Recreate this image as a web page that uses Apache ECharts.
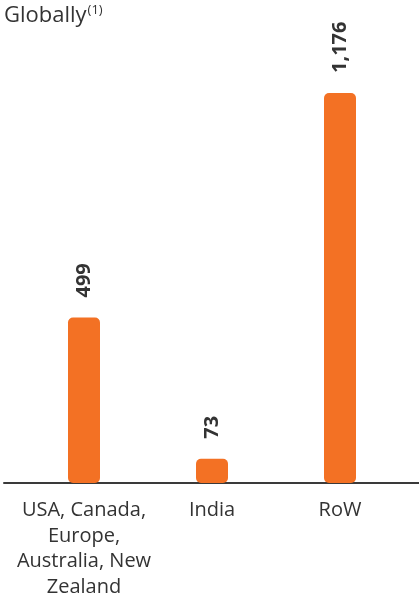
<!DOCTYPE html>
<html>
<head>
<meta charset="utf-8">
<script src="https://cdn.jsdelivr.net/npm/echarts@6/dist/echarts.min.js"></script>
<style>
  html, body { margin: 0; padding: 0; background: #fff; }
  #main { width: 419px; height: 594px; }
</style>
</head>
<body>
<div id="main"></div>
<script>
// data
const categories = ["USA, Canada,\nEurope,\nAustralia, New\nZealand", "India", "RoW"];
const values = [499, 73, 1176];
const valueLabels = ["499", "73", "1,176"];

const barColor = "#F37124";
const textColor = "#333333";
const fontFamily = "'Open Sans', Lato, sans-serif";

var myChart = echarts.init(document.getElementById("main"));

var option = {
    animation: false,
    title: {
        text: "Globally{sup|(1)}",
        left: -1,
        top: -1,
        textStyle: {
            fontFamily: fontFamily,
            fontSize: 22,
            fontWeight: "normal",
            color: textColor,
            rich: {
                sup: {
                    fontFamily: fontFamily,
                    fontSize: 13,
                    color: textColor,
                    verticalAlign: "top",
                    padding: [0, 0, 10, 1]
                }
            }
        }
    },
    grid: [
        // bars
        { left: 20, right: 15, top: 85, bottom: 111, outerBoundsMode: "none", containLabel: false },
        // long baseline running across the whole width
        { left: 4, right: 0, top: 85, bottom: 111, outerBoundsMode: "none", containLabel: false }
    ],
    xAxis: [
        {
            type: "category",
            gridIndex: 0,
            data: categories,
            axisLine: { show: false },
            axisTick: { show: false },
            axisLabel: {
                interval: 0,
                margin: 15,
                fontFamily: fontFamily,
                fontSize: 20,
                lineHeight: 25.5,
                color: textColor,
                align: "center"
            }
        },
        {
            type: "value",
            gridIndex: 1,
            min: 0,
            max: 1,
            axisLine: { show: true, lineStyle: { color: "#3a3a3a", width: 2 } },
            axisTick: { show: false },
            axisLabel: { show: false },
            splitLine: { show: false }
        }
    ],
    yAxis: [
        { type: "value", gridIndex: 0, min: 0, max: 1200, show: false },
        { type: "value", gridIndex: 1, min: 0, max: 1, show: false }
    ],
    series: [
        {
            type: "bar",
            xAxisIndex: 0,
            yAxisIndex: 0,
            data: values,
            barWidth: 32,
            itemStyle: { color: barColor, borderRadius: 5 },
            label: {
                show: true,
                position: "top",
                distance: 20,
                rotate: 90,
                align: "left",
                verticalAlign: "middle",
                fontFamily: fontFamily,
                fontSize: 20,
                fontWeight: "bold",
                color: textColor,
                formatter: function (p) { return valueLabels[p.dataIndex]; }
            }
        }
    ]
};

myChart.setOption(option);
</script>
</body>
</html>
